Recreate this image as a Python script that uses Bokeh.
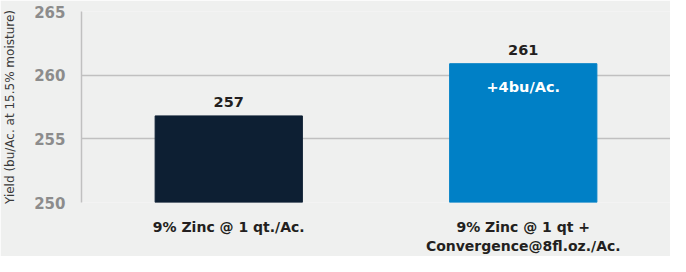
from bokeh.plotting import figure
from bokeh.models import Range1d, ColumnDataSource, FactorRange
from bokeh.core.properties import value
from bokeh.embed import file_html
from bokeh.resources import INLINE

categories = ["9% Zinc @ 1 qt./Ac.", "9% Zinc @ 1 qt +\nConvergence@8fl.oz./Ac."]
yields = [256.8, 260.9]
value_labels = ["257", "261"]
bar_colors = ["#0d1f33", "#0080c6"]
diff_labels = ["", "+4bu/Ac."]
y_ticks = [250, 255, 260, 265]

BG = "#eff0ef"
FONT = "DejaVu Sans"

src = ColumnDataSource(dict(cat=categories, top=yields, lab=value_labels,
                            color=bar_colors, diff=diff_labels))

p = figure(width=670, height=256, x_range=FactorRange(*categories),
           y_range=Range1d(250, 265), output_backend="svg", toolbar_location=None,
           background_fill_color=BG, border_fill_color=BG,
           min_border_left=78, min_border_top=11, min_border_right=0, min_border_bottom=1)
p.outline_line_color = None

p.vbar(x="cat", top="top", bottom=250, width=0.5, color="color", source=src)

p.text(x="cat", y="top", text="lab", source=src, text_align="center", text_baseline="bottom",
       y_offset=-9, text_font=value(FONT), text_font_style="bold", text_font_size="14.5px",
       text_color="#231f20")
p.text(x="cat", y="top", text="diff", source=src, text_align="center", text_baseline="top",
       y_offset=15, text_font=value(FONT), text_font_style="bold", text_font_size="14.5px",
       text_color="white")

p.xgrid.grid_line_color = None
p.ygrid.grid_line_color = "#c0c0c0"
p.ygrid.grid_line_width = 1.5
p.ygrid.level = "underlay"

p.yaxis.ticker = y_ticks
p.yaxis.axis_line_color = "#c0c0c0"
p.yaxis.axis_line_width = 1.5
p.yaxis.major_tick_line_color = None
p.yaxis.minor_tick_line_color = None
p.yaxis.major_label_text_font = FONT
p.yaxis.major_label_text_font_style = "bold"
p.yaxis.major_label_text_font_size = "15px"
p.yaxis.major_label_text_color = "#8c8c8c"
p.yaxis.major_label_standoff = 10
p.yaxis.axis_label = "Yield (bu/Ac. at 15.5% moisture)"
p.yaxis.axis_label_text_font = FONT
p.yaxis.axis_label_text_font_style = "normal"
p.yaxis.axis_label_text_font_size = "12px"
p.yaxis.axis_label_text_color = "#3a3a3a"
p.yaxis.axis_label_standoff = 14

p.xaxis.axis_line_color = None
p.xaxis.major_tick_line_color = None
p.xaxis.minor_tick_line_color = None
p.xaxis.major_label_text_font = FONT
p.xaxis.major_label_text_font_style = "bold"
p.xaxis.major_label_text_font_size = "14px"
p.xaxis.major_label_text_color = "#231f20"
p.xaxis.major_label_standoff = 10

open("out.html", "w").write(file_html(p, INLINE))
